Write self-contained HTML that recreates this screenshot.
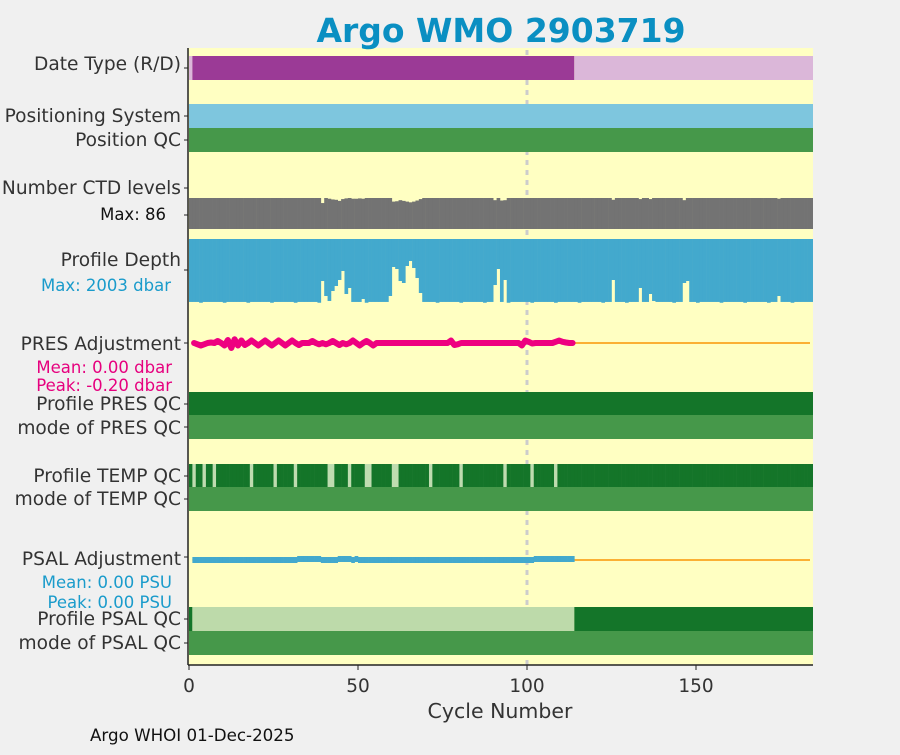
<!DOCTYPE html>
<html><head><meta charset="utf-8">
<style>
html,body{margin:0;padding:0;background:#f0f0f0;}
svg text{font-family:"DejaVu Sans","Liberation Sans",sans-serif;}
</style></head>
<body>
<svg id="chart" width="900" height="750" viewBox="0 0 900 750" xmlns="http://www.w3.org/2000/svg">
<rect x="0" y="0" width="900" height="750" fill="#f0f0f0"/>
<rect x="188" y="48" width="625" height="617" fill="#ffffc2"/>
<line x1="527" y1="50" x2="527" y2="665" stroke="#cccccc" stroke-width="3" stroke-dasharray="5,5"/>
<g id="marks"></g>
<line x1="188" y1="48" x2="188" y2="665" stroke="#222" stroke-width="1.5"/>
<line x1="188" y1="665" x2="813" y2="665" stroke="#222" stroke-width="1.5"/>
<g font-size="18.6" fill="#333" text-anchor="end">
<text x="181" y="70">Date Type (R/D)</text>
<text x="181" y="122">Positioning System</text>
<text x="181" y="146">Position QC</text>
<text x="181" y="194">Number CTD levels</text>
<text x="181" y="266">Profile Depth</text>
<text x="181" y="350">PRES Adjustment</text>
<text x="181" y="410">Profile PRES QC</text>
<text x="181" y="434">mode of PRES QC</text>
<text x="181" y="482">Profile TEMP QC</text>
<text x="181" y="505">mode of TEMP QC</text>
<text x="181" y="565">PSAL Adjustment</text>
<text x="181" y="625">Profile PSAL QC</text>
<text x="181" y="649">mode of PSAL QC</text>
</g>
<g font-size="16.5" text-anchor="end">
<text x="166" y="220" fill="#111">Max: 86</text>
<text x="171" y="291" fill="#1a9bcb">Max: 2003 dbar</text>
<text x="172" y="373" fill="#e6007e">Mean: 0.00 dbar</text>
<text x="172" y="391" fill="#e6007e">Peak: -0.20 dbar</text>
<text x="172" y="588" fill="#1a9bcb">Mean: 0.00 PSU</text>
<text x="172" y="608" fill="#1a9bcb">Peak: 0.00 PSU</text>
</g>
<g id="xticks" font-size="18.5" fill="#333" text-anchor="middle"></g>
<text x="500" y="718" text-anchor="middle" font-size="20.5" fill="#333">Cycle Number</text>
<text x="90" y="741" font-size="16.7" fill="#111">Argo WHOI 01-Dec-2025</text>
<text x="501" y="42" text-anchor="middle" font-size="33" font-weight="bold" fill="#0a8fc2">Argo WMO 2903719</text>
</svg>
<script>
const NC = 185;
const xTicks = [0, 50, 100, 150];
// cycles with lower CTD level count (others = 86)
const ctdCycles = [39,41,42,43,44,45,46,48,49,50,51,60,61,62,63,64,65,66,67,68,90,92,93,125,133,136,146,174];
const ctdValues = [72,84,82,81,78,83,85,84,84,85,84,76,77,80,78,76,74,76,79,83,80,79,80,81,83,83,80,84];
// cycles with shallower profile depth (others ~1970)
const depthCycles = [39,40,41,42,43,44,45,46,47,51,59,60,61,62,63,64,65,66,67,68,90,91,93,125,133,136,137,146,147,174];
const depthValues = [1315,1784,1940,1627,1471,1283,1001,1721,1533,1878,1784,876,939,1315,1377,845,689,908,1221,1690,1440,939,1283,1283,1533,1721,1940,1377,1315,1784];
// PRES adjustment (dbar), cycles 1..113; nonzero wiggles
const presCycles = [2,3,4,6,8,10,11,12,13,14,15,16,18,20,22,24,26,28,30,32,36,38,40,42,44,46,48,50,52,54,77,78,79,98,99,100,101,108,109,110,111];
const presValues = [-0.05,-0.1,-0.05,0.02,0.08,-0.1,0.12,-0.2,0.15,-0.1,0.1,-0.08,0.1,-0.1,0.1,-0.1,0.1,-0.1,0.1,-0.08,0.08,-0.05,-0.05,0.08,-0.08,-0.05,0.1,-0.1,0.08,-0.1,0.1,-0.08,-0.05,-0.1,0.1,0.05,-0.02,0.05,0.1,0.05,0.02];
const psalCycles = [32,33,34,35,36,37,38,44,45,46,47,49,102,103,104,105,106,107,108,109,110,111,112,113];
const psalValues = [0.01,0.01,0.01,0.01,0.01,0.01,0.01,0.01,0.01,0.01,0.01,0.01,0.01,0.01,0.01,0.01,0.01,0.01,0.01,0.01,0.01,0.01,0.01,0.01];
const tempBadCycles = [1,4,7,18,25,31,41,42,47,52,53,60,61,71,80,93,101,108];
const dLastCycle = 113;

const NS = 'http://www.w3.org/2000/svg';
const marks = document.getElementById('marks');
const xs = c => 189 + c * 3.38;
function mk(tag, attrs){const e=document.createElementNS(NS,tag);for(const k in attrs)e.setAttribute(k,attrs[k]);return e;}
function band(x1,x2,y,h,fill,name){
  const r=mk('rect',{x:x1,y:y,width:Math.max(0,Math.min(x2,813)-x1),height:h,fill:fill});
  
  
  marks.appendChild(r); return r;
}
band(xs(0),xs(1),56,24,'#dbb7d9','date-type-cycle0');
band(xs(1),xs(dLastCycle+1),56,24,'#9b3a96','date-type-delayed');
band(xs(dLastCycle+1),xs(NC),56,24,'#dbb7d9','date-type-realtime');
band(xs(0),xs(NC),104,24,'#7ec6de','positioning-system-band');
band(xs(0),xs(NC),128,24,'#46984a','position-qc-band');
const ctdTop=198, ctdH=31, ctdMax=86;
for(let c=0;c<NC;c++){
  const i=ctdCycles.indexOf(c); const v=i>=0?ctdValues[i]:86;
  const h=ctdH*v/ctdMax;
  band(xs(c),xs(c+1)+0.3,ctdTop+ctdH-h,h,'#737373','ctd-level-bar');
}
const dTop=239, dH=64, dMax=2003;
for(let c=0;c<NC;c++){
  const i=depthCycles.indexOf(c); const v=i>=0?depthValues[i]:(c%7===3?1995:1970);
  band(xs(c),xs(c+1)+0.3,dTop,dH*v/dMax,'#43a9cd','profile-depth-bar');
}
const presY=343, presScale=25;
const ol=mk('line',{x1:xs(1),y1:presY,x2:810,y2:presY,stroke:'#fbb034','stroke-width':2});


marks.appendChild(ol);
let pts=[];
for(let c=1;c<=dLastCycle;c++){const i=presCycles.indexOf(c);const v=i>=0?presValues[i]:0;pts.push((xs(c)+1.7).toFixed(1)+','+(presY-v*presScale).toFixed(1));}
const pl=mk('polyline',{points:pts.join(' '),fill:'none',stroke:'#ee0080','stroke-width':6,'stroke-linejoin':'round','stroke-linecap':'round'});


marks.appendChild(pl);
band(xs(0),xs(NC),392,23,'#147529','profile-pres-qc-band');
band(xs(0),xs(NC),415,24,'#46984a','mode-pres-qc-band');
for(let c=0;c<NC;c++){
  band(xs(c),xs(c+1)+0.3,464,23,tempBadCycles.includes(c)?'#bfdcb0':'#147529','profile-temp-qc-bar');
}
band(xs(0),xs(NC),487,24,'#46984a','mode-temp-qc-band');
const psY=557, psScale=100;
const ol2=mk('line',{x1:xs(1),y1:psY+3,x2:810,y2:psY+3,stroke:'#fbb034','stroke-width':2});


marks.appendChild(ol2);
for(let c=1;c<=dLastCycle;c++){
  const i=psalCycles.indexOf(c);const v=i>=0?psalValues[i]:0;
  band(xs(c),xs(c+1)+0.3,psY-v*psScale,6,'#43a9cd','psal-adjustment-bar');
}
band(xs(0),xs(1),607,24,'#147529','profile-psal-qc-cycle0');
band(xs(1),xs(dLastCycle+1),607,24,'#bddaaa','profile-psal-qc-delayed');
band(xs(dLastCycle+1),xs(NC),607,24,'#147529','profile-psal-qc-realtime');
band(xs(0),xs(NC),631,24,'#46984a','mode-psal-qc-band');
[68,116,140,188,215,270,343,404,427,476,499,557,619,643].forEach(y=>{
  const t=mk('line',{x1:184,y1:y,x2:188,y2:y,stroke:'#222','stroke-width':1});
  
  
  document.getElementById('chart').appendChild(t);
});
const xt=document.getElementById('xticks');
xTicks.forEach(v=>{
  const t=mk('line',{x1:xs(v),y1:665,x2:xs(v),y2:670,stroke:'#222','stroke-width':1});
  
  
  xt.appendChild(t);
  const l=mk('text',{x:xs(v),y:692});
  l.textContent=v;
  
  
  xt.appendChild(l);
});
</script>
</body></html>
